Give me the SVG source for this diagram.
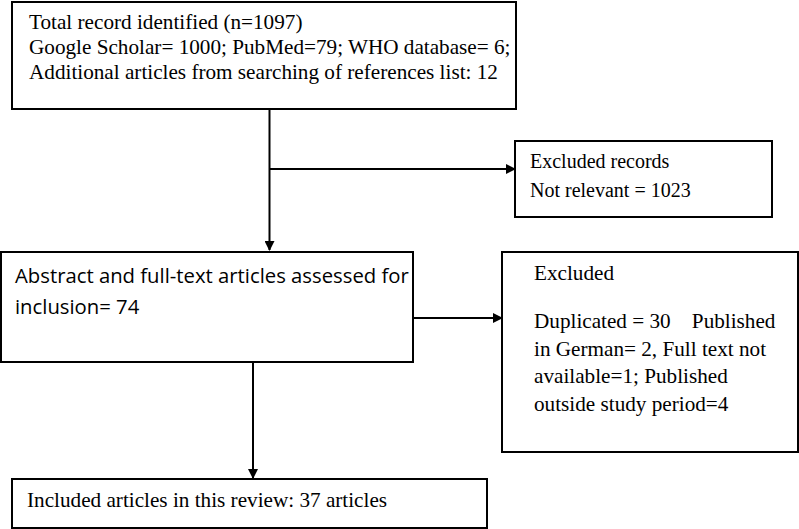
<svg xmlns="http://www.w3.org/2000/svg" width="799" height="529" viewBox="0 0 799 529">
<style>
.box{fill:#fff;stroke:#000;stroke-width:2}
.t{font-family:"Liberation Serif","Times New Roman",serif;font-size:21.2px;fill:#000}
.t2{font-family:"Liberation Serif","Times New Roman",serif;font-size:20px;fill:#000}
.s{font-family:"Open Sans","Liberation Sans",sans-serif;font-size:20.3px;fill:#000}
.ln{stroke:#000;stroke-width:2;fill:none}
</style>
<defs>
<marker id="ah" markerWidth="10" markerHeight="10" refX="9" refY="5" orient="auto" markerUnits="userSpaceOnUse">
<path d="M0,0 L10,5 L0,10 Z" fill="#000"/>
</marker>
</defs>
<rect width="799" height="529" fill="#fff"/>
<g id="connectors">
<path class="ln" d="M269.5,109 V250" marker-end="url(#ah)"/>
<path class="ln" d="M269.5,169 H515" marker-end="url(#ah)"/>
<path class="ln" d="M413,318 H502" marker-end="url(#ah)"/>
<path class="ln" d="M253,362 V478" marker-end="url(#ah)"/>
</g>
<g id="n1">
<rect class="box" x="12" y="2" width="504" height="107"/>
<text class="t" x="29" y="29">Total record identified (n=1097)</text>
<text class="t" x="29" y="54">Google Scholar= 1000; PubMed=79; WHO database= 6;</text>
<text class="t" x="29" y="79">Additional articles from searching of references list: 12</text>
</g>
<g id="n2">
<rect class="box" x="515" y="141" width="257" height="76"/>
<text class="t2" x="530" y="168">Excluded records</text>
<text class="t2" x="530" y="197">Not relevant = 1023</text>
</g>
<g id="n3">
<rect class="box" x="1" y="252" width="412" height="110"/>
<text class="s" x="15" y="283">Abstract and full-text articles assessed for</text>
<text class="s" x="15" y="314">inclusion= 74</text>
</g>
<g id="n4">
<rect class="box" x="502" y="252" width="296" height="200"/>
<text class="t" x="534" y="280">Excluded</text>
<text class="t" x="534" y="328" xml:space="preserve">Duplicated = 30    Published</text>
<text class="t" x="534" y="356">in German= 2, Full text not</text>
<text class="t" x="534" y="383">available=1; Published</text>
<text class="t" x="534" y="411">outside study period=4</text>
</g>
<g id="n5">
<rect class="box" x="12" y="479" width="475" height="49"/>
<text class="t" x="27" y="507">Included articles in this review: 37 articles</text>
</g>
</svg>
